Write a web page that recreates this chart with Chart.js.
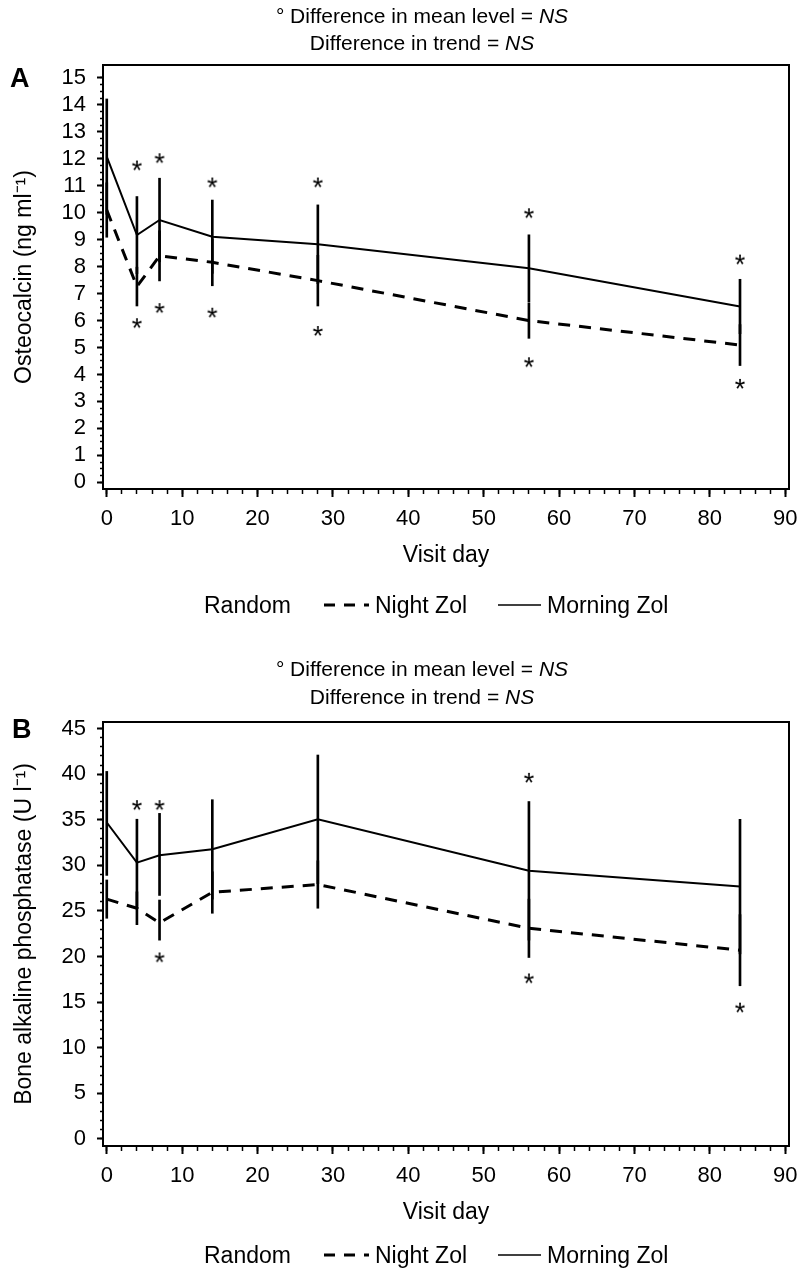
<!DOCTYPE html>
<html>
<head>
<meta charset="utf-8">
<script src="https://cdn.jsdelivr.net/npm/chart.js@4.4.1/dist/chart.umd.min.js"></script>
<style>
html, body { margin: 0; padding: 0; background: #fff; }
#wrap { position: relative; width: 799px; height: 1269px; }
canvas { position: absolute; left: 0; }
</style>
</head>
<body>
<div id="wrap">
  <canvas id="cA" width="799" height="634" style="top:0"></canvas>
  <canvas id="cB" width="799" height="635" style="top:634px"></canvas>
</div>
<script>
const FONT = '"Liberation Sans", Arial, Helvetica, sans-serif';

// ---- shared ----
const visitDays = [0, 4, 7, 14, 28, 56, 84];
const xTickValues = [0, 10, 20, 30, 40, 50, 60, 70, 80, 90];
const legendTitle = 'Random';
const seriesNames = ['Night Zol', 'Morning Zol'];

// ---- Panel A: Osteocalcin ----
const yTickValuesA = [0, 1, 2, 3, 4, 5, 6, 7, 8, 9, 10, 11, 12, 13, 14, 15];
const osteoMorning     = [12.08, 9.17, 9.73, 9.11, 8.83, 7.94, 6.52];
const osteoMorningLow  = [9.94, 7.74, 8.18, 7.75, 7.37, 6.70, 5.51];
const osteoMorningHigh = [14.22, 10.60, 11.28, 10.47, 10.29, 9.18, 7.53];
const osteoNight       = [10.10, 7.26, 8.40, 8.16, 7.48, 6.00, 5.09];
const osteoNightLow    = [9.09, 6.54, 7.47, 7.29, 6.54, 5.34, 4.33];
const osteoNightHigh   = [11.11, 7.98, 9.33, 9.03, 8.42, 6.66, 5.85];
const osteoStarUpDays   = [4, 7, 14, 28, 56, 84];
const osteoStarUp       = [11.75, 12.02, 11.12, 11.12, 9.98, 8.26];
const osteoStarDownDays = [4, 7, 14, 28, 56, 84];
const osteoStarDown     = [5.90, 6.46, 6.29, 5.61, 4.45, 3.65];

// ---- Panel B: Bone alkaline phosphatase ----
const yTickValuesB = [0, 5, 10, 15, 20, 25, 30, 35, 40, 45];
const bapMorning     = [34.7, 30.3, 31.1, 31.76, 35.05, 29.4, 27.67];
const bapMorningLow  = [28.9, 25.5, 26.7, 26.3, 28.0, 21.8, 20.3];
const bapMorningHigh = [40.3, 35.06, 35.7, 37.2, 42.1, 37.0, 35.05];
const bapNight       = [26.3, 25.3, 23.7, 27.05, 27.9, 23.1, 20.7];
const bapNightLow    = [24.2, 23.5, 21.8, 24.75, 25.3, 19.9, 16.8];
const bapNightHigh   = [28.4, 27.1, 26.2, 29.3, 30.5, 26.3, 24.6];
const bapStarUpDays   = [4, 7, 56];
const bapStarUp       = [36.6, 36.6, 39.6];
const bapStarDownDays = [7, 56, 84];
const bapStarDown     = [19.9, 17.6, 14.4];

function range(a, b, step) { const r = []; for (let v = a; v <= b + 1e-9; v += step) r.push(Math.round(v * 1000) / 1000); return r; }
const xMinorTicks = range(0, 90, 2);

function makeStar() {
  const c = document.createElement('canvas');
  c.width = 20; c.height = 20;
  const g = c.getContext('2d');
  g.font = '27px ' + FONT;
  g.fillStyle = '#000';
  g.textAlign = 'center';
  g.textBaseline = 'alphabetic';
  const m = g.measureText('*');
  const base = 10 + (m.actualBoundingBoxAscent - m.actualBoundingBoxDescent) / 2;
  g.fillText('*', 10, base);
  return c;
}
const starImg = makeStar();

function pts(xs, ys) { return xs.map((x, i) => ({ x: x, y: ys[i] })); }
function bars(xs, lo, hi) { return xs.map((x, i) => ({ x: x, y: [lo[i], hi[i]] })); }

function drawMixed(ctx, parts, cx, y, size) {
  const fonts = [size + 'px ' + FONT, 'italic ' + size + 'px ' + FONT];
  let total = 0;
  const widths = parts.map((p, i) => { ctx.font = fonts[i]; const w = ctx.measureText(p).width; total += w; return w; });
  let x = cx - total / 2;
  ctx.textAlign = 'left';
  parts.forEach((p, i) => { ctx.font = fonts[i]; ctx.fillText(p, x, y); x += widths[i]; });
}

const textPlugin = {
  id: 'panelText',
  afterDraw(chart, args, o) {
    const ctx = chart.ctx;
    ctx.save();
    ctx.fillStyle = '#000';
    ctx.strokeStyle = '#000';
    ctx.textBaseline = 'alphabetic';
    // panel letter
    ctx.font = 'bold 27px ' + FONT;
    ctx.textAlign = 'left';
    ctx.fillText(o.letter, o.letterX, o.letterY);
    // titles
    drawMixed(ctx, ['\u00B0 Difference in mean level = ', 'NS'], o.titleX, o.title1Y, 21);
    drawMixed(ctx, ['Difference in trend = ', 'NS'], o.titleX, o.title2Y, 21);
    // legend
    const ly = o.legendY;
    const tb = ly + 8;
    ctx.font = '23px ' + FONT;
    ctx.textAlign = 'left';
    ctx.fillText(legendTitle, 204, tb);
    ctx.lineWidth = 3;
    ctx.setLineDash([11, 9]);
    ctx.beginPath(); ctx.moveTo(324, ly); ctx.lineTo(369, ly); ctx.stroke();
    ctx.setLineDash([]);
    ctx.fillText(seriesNames[0], 375, tb);
    ctx.lineWidth = 1.5;
    ctx.beginPath(); ctx.moveTo(498, ly); ctx.lineTo(541, ly); ctx.stroke();
    ctx.fillText(seriesNames[1], 547, tb);
    ctx.restore();
  }
};

function noPad(s) { s.paddingLeft = 0; s.paddingRight = 0; s.paddingTop = 0; s.paddingBottom = 0; }

function makeChart(canvas, p) {
  const tickFont = { family: FONT, size: 22 };
  const titleFont = { family: FONT, size: 23 };
  return new Chart(canvas, {
    type: 'line',
    plugins: [textPlugin],
    data: {
      datasets: [
        { type: 'bar', data: bars(visitDays, p.mLow, p.mHigh), backgroundColor: '#000', borderWidth: 0, barThickness: 2, grouped: false, xAxisID: 'x', yAxisID: 'y' },
        { type: 'bar', data: bars(visitDays, p.nLow, p.nHigh), backgroundColor: '#000', borderWidth: 0, barThickness: 2, grouped: false, xAxisID: 'x', yAxisID: 'y' },
        { label: seriesNames[1], data: pts(visitDays, p.morning), borderColor: '#000', borderWidth: 2, pointRadius: 0, tension: 0, fill: false, xAxisID: 'x', yAxisID: 'y' },
        { label: seriesNames[0], data: pts(visitDays, p.night), borderColor: '#000', borderWidth: 3, borderDash: [12, 9], pointRadius: 0, tension: 0, fill: false, xAxisID: 'x', yAxisID: 'y' },
        { data: pts(p.upDays, p.up), showLine: false, pointStyle: starImg, pointRadius: 6, xAxisID: 'x', yAxisID: 'y' },
        { data: pts(p.downDays, p.down), showLine: false, pointStyle: starImg, pointRadius: 6, xAxisID: 'x', yAxisID: 'y' }
      ]
    },
    options: {
      responsive: false,
      animation: false,
      events: [],
      layout: { padding: { top: p.padTop, left: 0, right: 10, bottom: p.padBottom } },
      plugins: {
        legend: { display: false },
        tooltip: { enabled: false },
        title: { display: false },
        panelText: p.text
      },
      scales: {
        x: {
          type: 'linear', position: 'bottom', min: -0.5, max: 90.5, weight: 1, offset: false,
          afterBuildTicks: s => { s.ticks = xTickValues.map(v => ({ value: v })); },
          ticks: { font: tickFont, color: '#000', padding: 9, maxRotation: 0, autoSkip: false },
          grid: { offset: false, drawOnChartArea: false, tickLength: 8, tickWidth: 2, tickColor: '#000' },
          border: { display: true, width: 2, color: '#000' },
          title: { display: true, text: 'Visit day', font: titleFont, color: '#000', padding: { top: 0, bottom: 0 } },
          afterFit: s => { s.height = 80; noPad(s); }
        },
        xMinor: {
          type: 'linear', position: 'bottom', min: -0.5, max: 90.5, weight: 0, offset: false,
          afterBuildTicks: s => { s.ticks = xMinorTicks.map(v => ({ value: v })); },
          ticks: { display: false },
          grid: { offset: false, drawOnChartArea: false, tickLength: 5, tickWidth: 1.5, tickColor: '#000' },
          border: { display: false },
          afterFit: s => { s.height = 0; noPad(s); }
        },
        xTop: {
          type: 'linear', position: 'top', min: -0.5, max: 90.5, offset: false,
          ticks: { display: false },
          grid: { display: false, drawTicks: false },
          border: { display: true, width: 2, color: '#000' },
          afterFit: s => { s.height = 0; noPad(s); }
        },
        y: {
          type: 'linear', position: 'left', min: p.yMin, max: p.yMax, weight: 1, beginAtZero: false,
          afterBuildTicks: s => { s.ticks = p.yTicks.map(v => ({ value: v })); },
          ticks: { font: tickFont, color: '#000', padding: 11, autoSkip: false },
          grid: { drawOnChartArea: false, tickLength: 6, tickWidth: 2, tickColor: '#000' },
          border: { display: true, width: 2, color: '#000' },
          title: { display: true, text: p.yTitle, font: titleFont, color: '#000', padding: { top: 11, bottom: 0 } },
          afterFit: s => { s.width = 103; noPad(s); }
        },
        yMinor: {
          type: 'linear', position: 'left', min: p.yMin, max: p.yMax, weight: 0,
          afterBuildTicks: s => { s.ticks = p.yMinor.map(v => ({ value: v })); },
          ticks: { display: false },
          grid: { drawOnChartArea: false, tickLength: 3, tickWidth: 1.5, tickColor: '#000' },
          border: { display: false },
          afterFit: s => { s.width = 0; noPad(s); }
        },
        yRight: {
          type: 'linear', position: 'right', min: p.yMin, max: p.yMax,
          ticks: { display: false },
          grid: { display: false, drawTicks: false },
          border: { display: true, width: 2, color: '#000' },
          afterFit: s => { s.width = 0; noPad(s); }
        }
      }
    }
  });
}

makeChart(document.getElementById('cA'), {
  morning: osteoMorning, mLow: osteoMorningLow, mHigh: osteoMorningHigh,
  night: osteoNight, nLow: osteoNightLow, nHigh: osteoNightHigh,
  upDays: osteoStarUpDays, up: osteoStarUp, downDays: osteoStarDownDays, down: osteoStarDown,
  yMin: -0.25, yMax: 15.48, yTicks: yTickValuesA, yMinor: range(0, 15, 0.25),
  yTitle: 'Osteocalcin (ng ml\u207B\u00B9)',
  padTop: 65, padBottom: 65,
  text: { letter: 'A', letterX: 10, letterY: 87, titleX: 422, title1Y: 23, title2Y: 50, legendY: 605 }
});

makeChart(document.getElementById('cB'), {
  morning: bapMorning, mLow: bapMorningLow, mHigh: bapMorningHigh,
  night: bapNight, nLow: bapNightLow, nHigh: bapNightHigh,
  upDays: bapStarUpDays, up: bapStarUp, downDays: bapStarDownDays, down: bapStarDown,
  yMin: -0.77, yMax: 45.72, yTicks: yTickValuesB, yMinor: range(0, 45, 1),
  yTitle: 'Bone alkaline phosphatase (U l\u207B\u00B9)',
  padTop: 88, padBottom: 43,
  text: { letter: 'B', letterX: 12, letterY: 104, titleX: 422, title1Y: 42, title2Y: 70, legendY: 621 }
});
</script>
</body>
</html>
